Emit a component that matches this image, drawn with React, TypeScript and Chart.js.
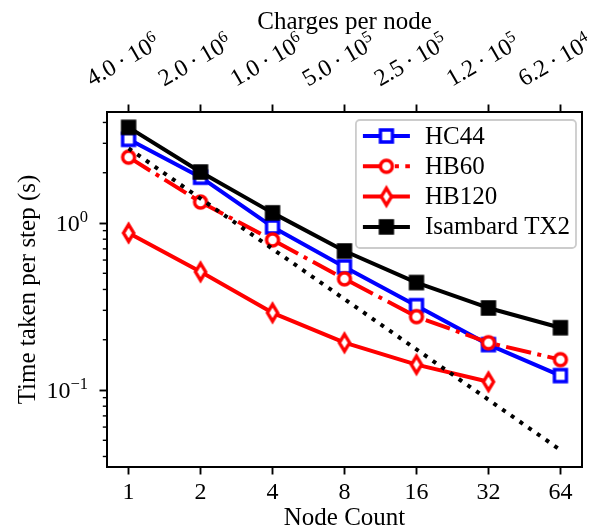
import React, { useEffect, useRef } from 'react';
import { Chart, registerables } from 'chart.js';

Chart.register(...registerables);

// ---------- data ----------
const nodeCounts = [1, 2, 4, 8, 16, 32, 64];
const hc44 = [3.17, 1.88, 0.947, 0.546, 0.32, 0.187, 0.122];
const hb60 = [2.48, 1.335, 0.792, 0.463, 0.275, 0.192, 0.152];
const hb120 = [0.872, 0.51, 0.29, 0.192, 0.142, 0.112];
const tx2 = [3.74, 2.02, 1.15, 0.68, 0.44, 0.31, 0.236];
const ideal = [2.8, 1.4, 0.7, 0.35, 0.175, 0.0875, 0.04375];
const chargeMantissas = ['4.0', '2.0', '1.0', '5.0', '2.5', '1.2', '6.2'];
const chargeExponents = ['6', '6', '6', '5', '5', '5', '4'];
const yMajorTicks = [0.1, 1];
const yTickExponents = ['\u22121', '0'];
const seriesLabels = ['HC44', 'HB60', 'HB120', 'Isambard TX2'];

// ---------- styles ----------
const FONT = '"Liberation Serif", "DejaVu Serif", serif';
const FS = 25; // titles, legend
const TFS = 24; // tick labels
const SUP = 16.5;
const LW = 4;
const MS = 12;
const MEW = 3.4;
const BLUE = '#0000ff';
const RED = '#ff0000';
const BLACK = '#000000';
const DASHDOT = [6.4 * LW, 1.6 * LW, 1 * LW, 1.6 * LW];
const DOTTED = [1 * LW, 1.65 * LW];
const TICK_LEN = 7.5;
const TICK_W = 1.9;
const MINOR_LEN = 4.2;
const MINOR_W = 1.4;

function makeMarker(kind: string): HTMLCanvasElement {
  const c = document.createElement('canvas');
  const size = 28;
  c.width = size;
  c.height = size;
  const ctx = c.getContext('2d')!;
  const cx = size / 2;
  const cy = size / 2;
  ctx.lineWidth = MEW;
  ctx.lineJoin = 'miter';
  ctx.beginPath();
  if (kind === 'sqOpen' || kind === 'sqFilled') {
    ctx.rect(cx - MS / 2, cy - MS / 2, MS, MS);
  } else if (kind === 'circOpen') {
    ctx.arc(cx, cy, MS / 2, 0, Math.PI * 2);
  } else if (kind === 'thinDiamond') {
    const hh = (MS * Math.SQRT2) / 2;
    const hw = hh * 0.6;
    ctx.moveTo(cx, cy - hh);
    ctx.lineTo(cx + hw, cy);
    ctx.lineTo(cx, cy + hh);
    ctx.lineTo(cx - hw, cy);
    ctx.closePath();
  }
  const col = kind === 'sqOpen' ? BLUE : kind === 'sqFilled' ? BLACK : RED;
  ctx.fillStyle = kind === 'sqFilled' ? BLACK : '#ffffff';
  ctx.strokeStyle = col;
  ctx.fill();
  ctx.stroke();
  return c;
}

const pts = (vals: number[]) => vals.map((v, i) => ({ x: nodeCounts[i], y: v }));

export default function App() {
  const ref = useRef<HTMLCanvasElement | null>(null);

  useEffect(() => {
    if (!ref.current) return;
    const markers = {
      hc44: makeMarker('sqOpen'),
      hb60: makeMarker('circOpen'),
      hb120: makeMarker('thinDiamond'),
      tx2: makeMarker('sqFilled'),
    };
    const legendItems = [
      { label: seriesLabels[0], color: BLUE, dash: [] as number[], marker: markers.hc44 },
      { label: seriesLabels[1], color: RED, dash: DASHDOT, marker: markers.hb60 },
      { label: seriesLabels[2], color: RED, dash: [] as number[], marker: markers.hb120 },
      { label: seriesLabels[3], color: BLACK, dash: [] as number[], marker: markers.tx2 },
    ];

    const decor = {
      id: 'decor',
      afterDatasetsDraw(chart: any) {
        const ctx = chart.ctx as CanvasRenderingContext2D;
        const { left, right, top, bottom } = chart.chartArea;
        const ys = chart.scales.y;
        const xs = chart.scales.x;
        ctx.save();
        // frame
        ctx.strokeStyle = BLACK;
        ctx.lineWidth = 2;
        ctx.setLineDash([]);
        ctx.strokeRect(left, top, right - left, bottom - top);
        // minor y ticks
        ctx.lineWidth = MINOR_W;
        for (const d of [-2, -1, 0]) {
          for (let m = 2; m <= 9; m++) {
            const v = m * Math.pow(10, d);
            if (v < ys.min || v > ys.max) continue;
            const y = ys.getPixelForValue(v);
            ctx.beginPath();
            ctx.moveTo(left - MINOR_LEN, y);
            ctx.lineTo(left, y);
            ctx.stroke();
          }
        }
        // y tick labels with superscripts
        ctx.fillStyle = BLACK;
        ctx.textBaseline = 'alphabetic';
        yMajorTicks.forEach((v, i) => {
          const y = ys.getPixelForValue(v);
          ctx.font = `${SUP}px ${FONT}`;
          const ws = ctx.measureText(yTickExponents[i]).width;
          ctx.font = `${TFS}px ${FONT}`;
          const wb = ctx.measureText('10').width;
          const xr = left - 19;
          const base = y + 0.33 * TFS;
          ctx.textAlign = 'left';
          ctx.fillText('10', xr - ws - wb, base);
          ctx.font = `${SUP}px ${FONT}`;
          ctx.fillText(yTickExponents[i], xr - ws, base - 0.36 * TFS);
        });
        // top rotated labels
        const ang = Math.PI / 6;
        const bottomY = top - 21;
        nodeCounts.forEach((n, i) => {
          const x = xs.getPixelForValue(n) - 6;
          const main = chargeMantissas[i] + '\u2009\u00b7\u200910';
          ctx.font = `${TFS}px ${FONT}`;
          const wm = ctx.measureText(main).width;
          ctx.font = `${SUP}px ${FONT}`;
          const we = ctx.measureText(chargeExponents[i]).width;
          const w = wm + we + 1;
          const h = TFS * 1.15;
          const H = w * Math.sin(ang) + h * Math.cos(ang);
          ctx.save();
          ctx.translate(x, bottomY - H / 2);
          ctx.rotate(-ang);
          const base = h / 2 - 0.2 * TFS;
          ctx.textAlign = 'left';
          ctx.font = `${TFS}px ${FONT}`;
          ctx.fillText(main, -w / 2, base);
          ctx.font = `${SUP}px ${FONT}`;
          ctx.fillText(chargeExponents[i], -w / 2 + wm, base - 0.36 * TFS);
          ctx.restore();
        });
        // legend
        ctx.font = `${FS}px ${FONT}`;
        let maxW = 0;
        legendItems.forEach((it) => {
          maxW = Math.max(maxW, ctx.measureText(it.label).width);
        });
        const boxW = 69 + maxW + 6;
        const bx1 = right - 6;
        const bx0 = bx1 - boxW;
        const by0 = top + 8;
        const boxH = 128;
        ctx.beginPath();
        (ctx as any).roundRect(bx0, by0, boxW, boxH, 4);
        ctx.fillStyle = 'rgba(255,255,255,0.8)';
        ctx.fill();
        ctx.strokeStyle = '#cccccc';
        ctx.lineWidth = 1.8;
        ctx.stroke();
        legendItems.forEach((it, i) => {
          const y = by0 + 16 + i * 30.3;
          ctx.beginPath();
          ctx.setLineDash(it.dash);
          ctx.strokeStyle = it.color;
          ctx.lineWidth = LW;
          ctx.lineCap = 'butt';
          ctx.moveTo(bx0 + 7, y);
          ctx.lineTo(bx0 + 54, y);
          ctx.stroke();
          ctx.setLineDash([]);
          const mk = it.marker;
          ctx.drawImage(mk, bx0 + 30.5 - mk.width / 2, y - mk.height / 2);
          ctx.fillStyle = BLACK;
          ctx.font = `${FS}px ${FONT}`;
          ctx.textAlign = 'left';
          ctx.textBaseline = 'middle';
          ctx.fillText(it.label, bx0 + 69, y + 1);
        });
        ctx.restore();
      },
    };

    const axisTitleFont = { family: FONT, size: FS, lineHeight: 1 };
    const gridOpts = { drawOnChartArea: false, drawTicks: true, tickLength: TICK_LEN, tickWidth: TICK_W, tickColor: BLACK };
    const chart = new Chart(ref.current, {
      type: 'line',
      data: {
        datasets: [
          {
            label: seriesLabels[0],
            data: pts(hc44),
            borderColor: BLUE,
            backgroundColor: BLUE,
            borderWidth: LW,
            pointStyle: markers.hc44 as any,
            pointRadius: 7,
            order: 4,
            borderJoinStyle: 'round',
          },
          {
            label: seriesLabels[1],
            data: pts(hb60),
            borderColor: RED,
            backgroundColor: RED,
            borderWidth: LW,
            borderDash: DASHDOT,
            pointStyle: markers.hb60 as any,
            pointRadius: 7,
            order: 3,
          },
          {
            label: seriesLabels[2],
            data: pts(hb120),
            borderColor: RED,
            backgroundColor: RED,
            borderWidth: LW,
            pointStyle: markers.hb120 as any,
            pointRadius: 7,
            order: 2,
            borderJoinStyle: 'round',
          },
          {
            label: seriesLabels[3],
            data: pts(tx2),
            borderColor: BLACK,
            backgroundColor: BLACK,
            borderWidth: LW,
            pointStyle: markers.tx2 as any,
            pointRadius: 7,
            order: 1,
            borderJoinStyle: 'round',
          },
          {
            label: 'ideal',
            data: pts(ideal),
            borderColor: BLACK,
            borderWidth: LW,
            borderDash: DOTTED,
            borderCapStyle: 'butt',
            pointRadius: 0,
            order: 0,
          },
        ],
      },
      options: {
        responsive: false,
        animation: false,
        devicePixelRatio: 1,
        layout: { padding: { left: 0, right: 9, top: 0, bottom: 0 } },
        plugins: { legend: { display: false }, tooltip: { enabled: false } },
        elements: { line: { tension: 0, fill: false } },
        scales: {
          x: {
            type: 'logarithmic',
            position: 'bottom',
            min: Math.pow(2, -0.3),
            max: Math.pow(2, 6.3),
            afterBuildTicks: (s: any) => {
              s.ticks = nodeCounts.map((v) => ({ value: v }));
            },
            afterFit: (s: any) => {
              s.height = 62;
            },
            ticks: {
              callback: (v: any) => String(v),
              font: { family: FONT, size: TFS },
              color: BLACK,
              padding: 4,
              maxRotation: 0,
              minRotation: 0,
              autoSkip: false,
              major: { enabled: false },
            },
            grid: gridOpts,
            border: { display: false },
            title: { display: true, text: 'Node Count', font: axisTitleFont, color: BLACK, padding: { top: 0, bottom: -1.5 } },
          },
          x2: {
            type: 'logarithmic',
            position: 'top',
            min: Math.pow(2, -0.3),
            max: Math.pow(2, 6.3),
            afterBuildTicks: (s: any) => {
              s.ticks = nodeCounts.map((v) => ({ value: v }));
            },
            afterFit: (s: any) => {
              s.height = 112;
            },
            ticks: { display: false, autoSkip: false, major: { enabled: false } },
            grid: gridOpts,
            border: { display: false },
            title: { display: true, text: 'Charges per node', font: axisTitleFont, color: BLACK, padding: { top: 9.5, bottom: 0 } },
          },
          y: {
            type: 'logarithmic',
            position: 'left',
            min: 0.0346,
            max: 4.62,
            afterBuildTicks: (s: any) => {
              s.ticks = yMajorTicks.map((v) => ({ value: v }));
            },
            afterFit: (s: any) => {
              s.width = 107;
            },
            ticks: { display: false, autoSkip: false, major: { enabled: false } },
            grid: gridOpts,
            border: { display: false },
            title: { display: true, text: 'Time taken per step (s)', font: axisTitleFont, color: BLACK, padding: { top: 15.5, bottom: 0 } },
          },
        },
      } as any,
      plugins: [decor],
    });
    return () => chart.destroy();
  }, []);

  return (
    <div style={{ position: 'absolute', left: 0, top: 0, width: 593, height: 529, background: '#fff' }}>
      <canvas ref={ref} width={593} height={529} style={{ display: 'block', width: 593, height: 529 }} />
    </div>
  );
}
